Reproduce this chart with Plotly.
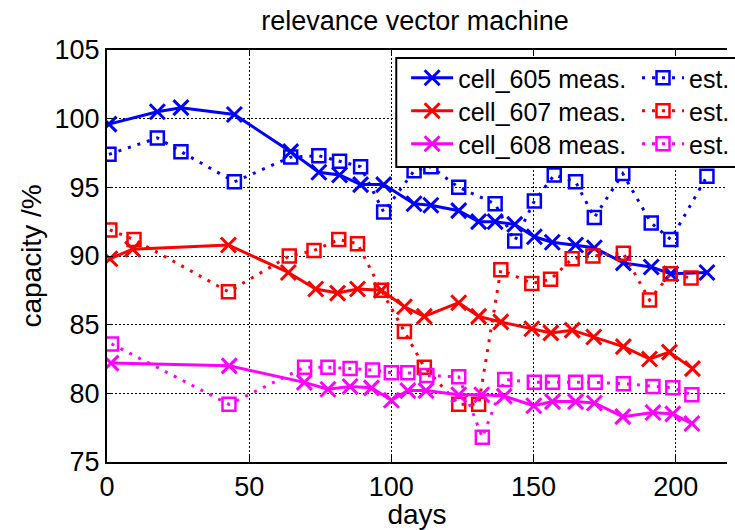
import plotly.graph_objects as go

# ---------------- data ----------------
days_605_meas = [0.7, 17.7, 26, 44.8, 64.6, 74.5, 81.8, 89.2, 97.3, 108, 113.9, 123.7, 130.7,
                 136.5, 143.4, 150.3, 156.6, 164.8, 171.4, 181.6, 191.4, 198.3, 211]
cap_605_meas = [99.6, 100.5, 100.8, 100.3, 97.6, 96.1, 95.9, 95.2, 95.2, 93.8, 93.7, 93.3, 92.5,
                92.5, 92.3, 91.4, 91.0, 90.8, 90.6, 89.5, 89.2, 88.7, 88.8]
days_605_est = [0.7, 17.7, 26, 44.8, 64.6, 74.5, 81.8, 89.2, 97.3, 108, 113.9, 123.7,
                136.5, 143.4, 150.3, 157.3, 164.8, 171.4, 181.4, 191.4, 198.3, 211]
cap_605_est = [97.4, 98.6, 97.6, 95.4, 97.2, 97.3, 96.9, 96.5, 93.2, 96.2, 96.5, 95.0,
               93.8, 91.1, 94.0, 95.9, 95.4, 92.8, 96.0, 92.4, 91.2, 95.8]

days_607_meas = [1, 9, 42.7, 63.8, 73.4, 81.1, 88.1, 96.5, 104.6, 111.6, 123.7, 130.7,
                 138.5, 149.4, 156.1, 163.6, 171.2, 181.6, 190.8, 197.8, 205.9]
cap_607_meas = [89.8, 90.5, 90.8, 88.8, 87.6, 87.3, 87.6, 87.5, 86.3, 85.6, 86.6, 85.6,
                85.2, 84.7, 84.4, 84.6, 84.1, 83.4, 82.5, 83.0, 81.8]
days_607_est = [1, 9.5, 42.7, 64.1, 72.8, 81.5, 88.1, 96.5, 104.6, 111.6, 123.7, 130.7,
                138.5, 149.4, 156.0, 163.6, 170.9, 181.6, 190.8, 198.1, 205.4]
cap_607_est = [91.9, 91.2, 87.4, 90.0, 90.4, 91.2, 90.9, 87.5, 84.5, 81.9, 79.2, 79.2,
               89.0, 88.0, 88.3, 89.8, 90.0, 90.2, 86.8, 88.7, 88.4]

days_608_meas = [1.4, 43, 69.4, 77.7, 85.5, 93, 100, 105.8, 112.2, 123.7, 131.8, 139.7,
                 150.1, 156.7, 164.8, 171.4, 181.4, 192, 199, 205.7]
cap_608_meas = [82.2, 82.0, 80.8, 80.3, 80.5, 80.4, 79.5, 80.2, 80.2, 79.9, 79.9, 79.8,
                79.1, 79.4, 79.4, 79.3, 78.3, 78.6, 78.5, 77.8]
days_608_est = [1.6, 42.9, 69.5, 77.7, 85.5, 93.4, 100, 105.8, 112.5, 123.7, 132, 139.9,
                150.3, 156.7, 164.8, 171.7, 181.6, 192, 199, 205.7]
cap_608_est = [83.6, 79.2, 81.9, 81.9, 81.8, 81.7, 81.5, 81.5, 81.3, 81.2, 76.8, 81.0,
               80.8, 80.8, 80.8, 80.8, 80.7, 80.5, 80.4, 79.9]

x_ticks = [0, 50, 100, 150, 200]
y_ticks = [75, 80, 85, 90, 95, 100, 105]

FONT = "Liberation Sans, Arial, sans-serif"
W, H = 735, 530
L, T, B = 107, 50, 68
PW = W - L
PH = H - T - B


def px(xp):
    return (xp - L) / PW


def py(yp):
    return (H - B - yp) / PH


series = [
    ("cell_605 meas.", days_605_meas, cap_605_meas, "#0000FF", True),
    ("cell_607 meas.", days_607_meas, cap_607_meas, "#FF0000", True),
    ("cell_608 meas.", days_608_meas, cap_608_meas, "#FF00FF", True),
    ("est.", days_605_est, cap_605_est, "#0000FF", False),
    ("est.", days_607_est, cap_607_est, "#FF0000", False),
    ("est.", days_608_est, cap_608_est, "#FF00FF", False),
]
order = [0, 3, 1, 4, 2, 5]

fig = go.Figure()
row_y = [78, 111, 144]
legends = {}
for i in order:
    name, xs, ys, col, meas = series[i]
    lname = "legend" if i == 0 else f"legend{i + 1}"
    if meas:
        trace = go.Scatter(x=xs, y=ys, name=name, mode="lines+markers",
                           line=dict(color=col, width=3),
                           marker=dict(symbol="x-thin", size=15, color=col,
                                       line=dict(color=col, width=3)),
                           legend=lname)
        lx = 410
    else:
        trace = go.Scatter(x=xs, y=ys, name=name, mode="lines+markers",
                           line=dict(color=col, width=3, dash="3px,7px"),
                           marker=dict(symbol="square-open", size=13, color=col,
                                       line=dict(color=col, width=2.5)),
                           legend=lname)
        lx = 644
    fig.add_trace(trace)
    legends[lname] = dict(x=px(lx), y=py(row_y[i % 3]), xanchor="left", yanchor="middle",
                          bgcolor="rgba(0,0,0,0)", borderwidth=0, itemwidth=42,
                          font=dict(family=FONT, size=25, color="black"),
                          tracegroupgap=0)

fig.update_layout(**legends)

fig.add_shape(type="rect", xref="paper", yref="paper",
              x0=px(400), x1=px(760), y0=py(167), y1=py(58),
              line=dict(color="black", width=2), fillcolor="white", layer="above")

fig.update_layout(
    width=W, height=H,
    margin=dict(l=L, r=0, t=T, b=B, pad=0),
    paper_bgcolor="white", plot_bgcolor="white",
    font=dict(family=FONT, size=27, color="black"),
    showlegend=True,
    title=dict(text="relevance vector machine", x=415 / W, xanchor="center",
               y=1 - 21 / H, yanchor="middle",
               font=dict(family=FONT, size=27, color="black")),
    xaxis=dict(range=[0, PW / 2.88], tickvals=x_ticks, ticktext=[str(v) for v in x_ticks],
               showgrid=True, gridcolor="black", gridwidth=1, griddash="2px,2px",
               zeroline=False, showline=True, linecolor="black", linewidth=2,
               mirror="ticks", ticks="inside", ticklen=6, tickcolor="black", tickwidth=1,
               tickfont=dict(family=FONT, size=27),
               title=dict(text="days", font=dict(family=FONT, size=28), standoff=0)),
    yaxis=dict(range=[75, 105], tickvals=y_ticks, ticktext=[str(v) for v in y_ticks],
               showgrid=True, gridcolor="black", gridwidth=1, griddash="2px,2px",
               zeroline=False, showline=True, linecolor="black", linewidth=2,
               mirror=False, ticks="inside", ticklen=6, tickcolor="black", tickwidth=1,
               tickfont=dict(family=FONT, size=27),
               title=dict(text="capacity /%", font=dict(family=FONT, size=28), standoff=5)),
)

fig.write_html("out.html")
